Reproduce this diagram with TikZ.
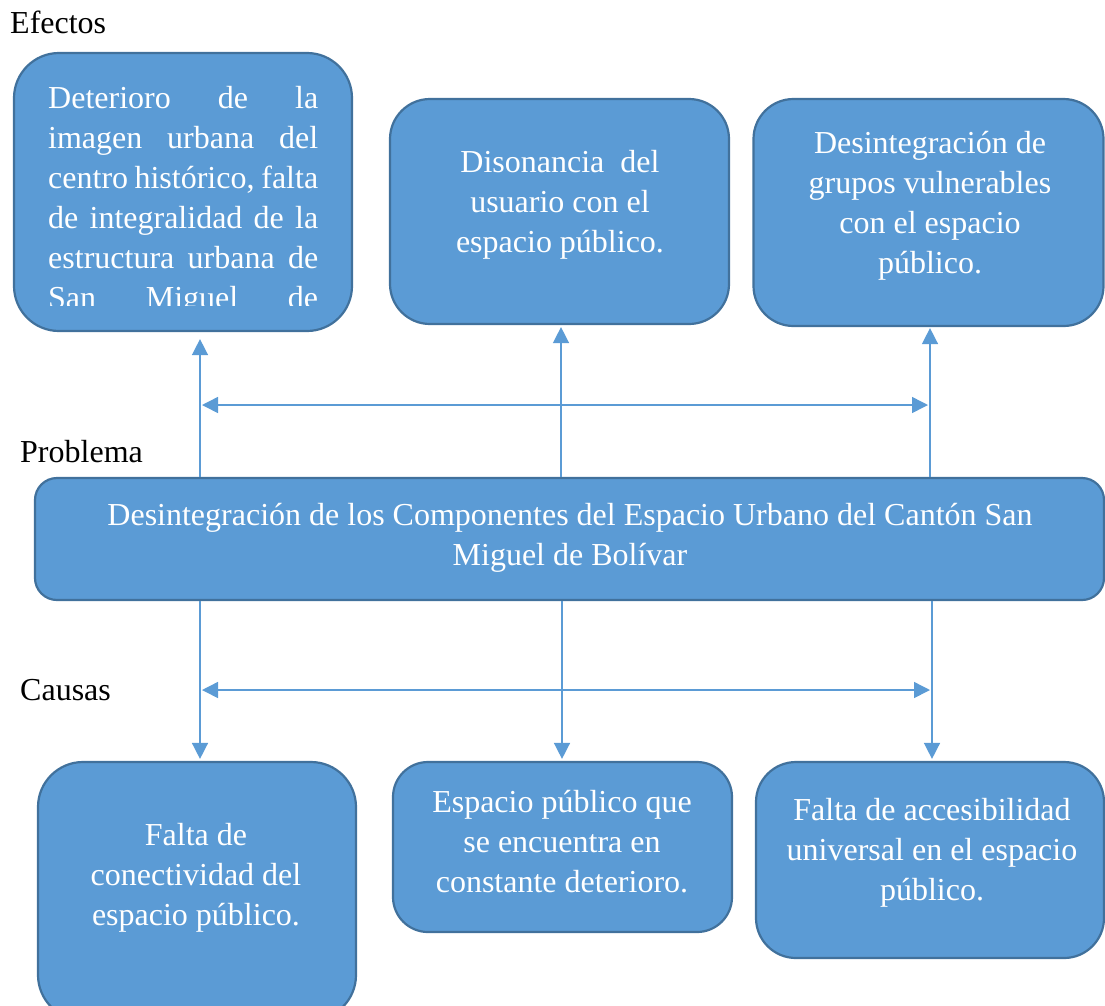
\documentclass[tikz,border=0pt]{standalone}
\usepackage{fontspec}
\setmainfont{Liberation Serif}
\usetikzlibrary{arrows.meta}
\definecolor{boxfill}{HTML}{5B9BD5}
\definecolor{boxdraw}{HTML}{41719C}
\tikzset{
  box/.style={draw=boxdraw, fill=boxfill, line width=2.2pt, inner sep=0pt, rectangle},
  txt/.style={text=white, font=\fontsize{32}{40}\selectfont, align=center, inner sep=0pt, anchor=north},
  lbl/.style={font=\fontsize{32}{40}\selectfont, inner sep=0pt, anchor=base west},
  arr/.style={draw=boxfill, line width=1.5pt, -{Triangle[length=16pt,width=16pt]}},
  darr/.style={draw=boxfill, line width=1.5pt, {Triangle[length=16pt,width=16pt]}-{Triangle[length=16pt,width=16pt]}},
}
\begin{document}
\begin{tikzpicture}[x=1pt,y=-1pt]
\useasboundingbox (0,0) rectangle (1105,1005);

% labels
\node[lbl] (lefe) at (10,33) {Efectos};
\node[lbl] (lpro) at (20,462) {Problema};
\node[lbl] (lcau) at (20,700) {Causas};

% effect boxes
\node[box, rounded corners=45pt, minimum width=338pt, minimum height=278pt] (e1) at (183,192) {};
\node[box, rounded corners=40pt, minimum width=339pt, minimum height=225pt] (e2) at (559.5,211.5) {};
\node[box, rounded corners=40pt, minimum width=350pt, minimum height=227pt] (e3) at (928.5,212.5) {};

% problem box
\node[box, rounded corners=22pt, minimum width=1069pt, minimum height=122pt] (prob) at (569.5,539) {};

% cause boxes
\node[box, rounded corners=45pt, minimum width=318pt, minimum height=258pt] (k1) at (197,891) {};
\node[box, rounded corners=35pt, minimum width=339pt, minimum height=170pt] (k2) at (562.5,847) {};
\node[box, rounded corners=40pt, minimum width=348pt, minimum height=196pt] (k3) at (930,860) {};

% texts
\begin{scope}
  \clip (14,53) rectangle (352,305);
  \node[txt, align=left, anchor=north west] (t1) at (48,80) {%
    \strut\makebox[270pt][s]{Deterioro de la}\\
    \makebox[270pt][s]{imagen urbana del}\\
    \makebox[270pt][s]{centro histórico, falta}\\
    \makebox[270pt][s]{de integralidad de la}\\
    \makebox[270pt][s]{estructura urbana de}\\
    \makebox[270pt][s]{San Miguel de}};
\end{scope}
\node[txt] (t2) at (560,144) {\strut Disonancia~ del\\usuario con el\\espacio público.};
\node[txt] (t3) at (930,125) {\strut Desintegración de\\grupos vulnerables\\con el espacio\\público.};
\node[txt] (tp) at (570,497) {\strut Desintegración de los Componentes del Espacio Urbano del Cantón San\\Miguel de Bolívar};
\node[txt] (tk1) at (196,817) {\strut Falta de\\conectividad del\\espacio público.};
\node[txt] (tk2) at (562,784) {\strut Espacio público que\\se encuentra en\\constante deterioro.};
\node[txt] (tk3) at (932,792) {\strut Falta de accesibilidad\\universal en el espacio\\público.};

% connector columns
\coordinate (c1) at (200,0);
\coordinate (c2) at (561,0);
\coordinate (c3) at (930,0);
\coordinate (d1) at (200,0);
\coordinate (d2) at (562,0);
\coordinate (d3) at (932,0);

% up arrows (problem -> effects)
\draw[arr, shorten >=7pt] (prob.north -| c1) -- (e1.south -| c1);
\draw[arr, shorten >=2pt] (prob.north -| c2) -- (e2.south -| c2);
\draw[arr, shorten >=1pt] (prob.north -| c3) -- (e3.south -| c3);

% down arrows (problem -> causes)
\draw[arr, shorten >=2pt] (prob.south -| d1) -- (k1.north -| d1);
\draw[arr, shorten >=2pt] (prob.south -| d2) -- (k2.north -| d2);
\draw[arr, shorten >=2pt] (prob.south -| d3) -- (k3.north -| d3);

% horizontal double arrows
\coordinate (h1a) at (202,405);
\coordinate (h1b) at (928,405);
\coordinate (h2a) at (202,690);
\coordinate (h2b) at (930,690);
\draw[darr] (h1a) -- (h1b);
\draw[darr] (h2a) -- (h2b);
\end{tikzpicture}
\end{document}
